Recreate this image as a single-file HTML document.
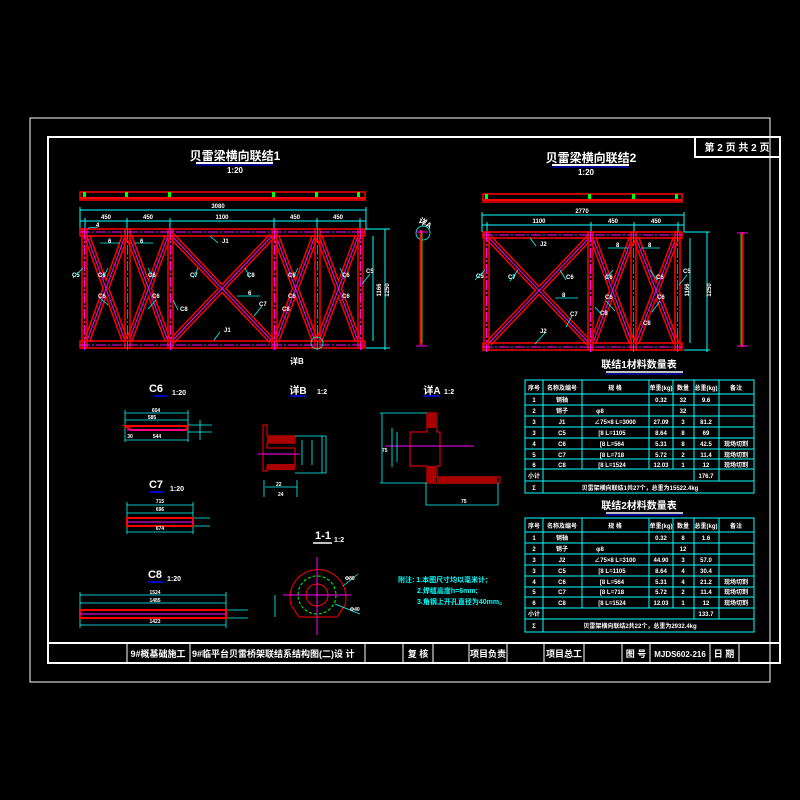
<!DOCTYPE html>
<html><head><meta charset="utf-8"><style>
html,body{margin:0;padding:0;background:#000;}
svg{display:block}
text{font-family:"Liberation Sans","Noto Sans CJK SC",sans-serif;font-weight:bold;fill:#fff}
</style></head><body>
<svg width="800" height="800" viewBox="0 0 800 800" xmlns="http://www.w3.org/2000/svg">
<rect width="800" height="800" fill="#000"/>
<!-- frames -->
<rect x="30" y="118" width="740" height="564" fill="none" stroke="#fff" stroke-width="1"/>
<rect x="48" y="137" width="732" height="526" fill="none" stroke="#fff" stroke-width="2"/>
<!-- page box -->
<rect x="695" y="137" width="85" height="20" fill="none" stroke="#fff" stroke-width="2"/>
<text x="737" y="151" font-size="10" text-anchor="middle">第 2 页  共 2 页</text>
<!-- title block -->
<line x1="48" y1="643" x2="780" y2="643" stroke="#fff" stroke-width="2"/>
<g stroke="#fff" stroke-width="1">
<line x1="127" y1="643" x2="127" y2="663"/><line x1="190" y1="643" x2="190" y2="663"/>
<line x1="365" y1="643" x2="365" y2="663"/><line x1="403" y1="643" x2="403" y2="663"/>
<line x1="433" y1="643" x2="433" y2="663"/><line x1="469" y1="643" x2="469" y2="663"/>
<line x1="507" y1="643" x2="507" y2="663"/><line x1="544" y1="643" x2="544" y2="663"/>
<line x1="584" y1="643" x2="584" y2="663"/><line x1="622" y1="643" x2="622" y2="663"/>
<line x1="650" y1="643" x2="650" y2="663"/><line x1="710" y1="643" x2="710" y2="663"/>
<line x1="739" y1="643" x2="739" y2="663"/>
</g>
<g font-size="9">
<text x="158" y="657" text-anchor="middle">9#概基础施工</text>
<text x="192" y="657">9#临平台贝雷桥架联结系结构图(二)设 计</text>
<text x="418" y="657" text-anchor="middle">复 核</text>
<text x="488" y="657" text-anchor="middle">项目负责</text>
<text x="564" y="657" text-anchor="middle">项目总工</text>
<text x="636" y="657" text-anchor="middle">图 号</text>
<text x="680" y="657" text-anchor="middle" font-size="8">MJDS602-216</text>
<text x="724" y="657" text-anchor="middle">日 期</text>
</g>

<!-- Titles -->
<text x="235" y="160" font-size="12" text-anchor="middle">贝雷梁横向联结1</text>
<line x1="196" y1="163" x2="273" y2="163" stroke="#fff" stroke-width="2"/><line x1="196" y1="165" x2="273" y2="165" stroke="#00f" stroke-width="1"/>
<text x="235" y="173" font-size="8" text-anchor="middle">1:20</text>
<text x="591" y="162" font-size="12" text-anchor="middle">贝雷梁横向联结2</text>
<line x1="552" y1="165" x2="629" y2="165" stroke="#fff" stroke-width="2"/><line x1="552" y1="167" x2="629" y2="167" stroke="#00f" stroke-width="1"/>
<text x="586" y="175" font-size="8" text-anchor="middle">1:20</text>

<!-- Truss 1 top strip -->
<rect x="80" y="192" width="285" height="8" fill="none" stroke="#f00" stroke-width="1.5"/>
<line x1="80" y1="198" x2="365" y2="198" stroke="#f00" stroke-width="2"/>
<g fill="#0f0"><rect x="83" y="192" width="3" height="5"/><rect x="125" y="192" width="3" height="5"/><rect x="168" y="192" width="3" height="5"/><rect x="272" y="192" width="3" height="5"/><rect x="315" y="192" width="3" height="5"/><rect x="357" y="192" width="3" height="5"/></g>
<!-- dims truss1 -->
<g stroke="#0ff" stroke-width="1" fill="none">
<line x1="80" y1="210" x2="366" y2="210"/><line x1="80" y1="221" x2="366" y2="221"/>
<line x1="80" y1="207" x2="80" y2="230"/><line x1="366" y1="207" x2="366" y2="230"/>
<line x1="85" y1="218" x2="85" y2="230"/><line x1="127" y1="218" x2="127" y2="230"/><line x1="170" y1="218" x2="170" y2="230"/><line x1="274" y1="218" x2="274" y2="230"/><line x1="317" y1="218" x2="317" y2="230"/><line x1="360" y1="218" x2="360" y2="230"/>
<line x1="366" y1="229" x2="390" y2="229"/><line x1="366" y1="348" x2="390" y2="348"/>
<line x1="385" y1="229" x2="385" y2="350"/><line x1="373" y1="236" x2="373" y2="341"/>
</g>
<g font-size="6" text-anchor="middle">
<text x="218" y="208">3080</text><text x="106" y="219">450</text><text x="148" y="219">450</text><text x="222" y="219">1100</text><text x="295" y="219">450</text><text x="338" y="219">450</text>
<text x="381" y="290" transform="rotate(-90 381 290)">1166</text><text x="389" y="290" transform="rotate(-90 389 290)">1250</text>
</g>
<!-- truss1 diagonals -->
<g stroke-linecap="butt">
<g stroke="#f00" stroke-width="7">
<path d="M87 236L125 341M125 236L87 341M129 236L168 341M168 236L129 341M172 236L272 341M272 236L172 341M276 236L315 341M315 236L276 341M319 236L358 341M358 236L319 341"/>
</g>
<g stroke="#000" stroke-width="4">
<path d="M87 236L125 341M125 236L87 341M129 236L168 341M168 236L129 341M172 236L272 341M272 236L172 341M276 236L315 341M315 236L276 341M319 236L358 341M358 236L319 341"/>
</g>
<g stroke="#f0f" stroke-width="1">
<path d="M87 236L125 341M125 236L87 341M129 236L168 341M168 236L129 341M172 236L272 341M272 236L172 341M276 236L315 341M315 236L276 341M319 236L358 341M358 236L319 341"/>
</g>
</g>
<!-- truss1 chords & verticals -->
<g fill="none" stroke="#f00" stroke-width="1.5">
<rect x="80" y="229" width="285" height="7"/><rect x="80" y="341" width="285" height="7"/>
<rect x="82" y="229" width="5" height="119"/><rect x="125" y="229" width="5" height="119"/><rect x="168" y="229" width="5" height="119"/><rect x="272" y="229" width="5" height="119"/><rect x="315" y="229" width="5" height="119"/><rect x="358" y="229" width="5" height="119"/>
</g>
<g stroke="#f0f" stroke-width="1" stroke-dasharray="10 2 2 2">
<line x1="80" y1="232" x2="365" y2="232"/><line x1="80" y1="345" x2="365" y2="345"/>
<line x1="84.5" y1="229" x2="84.5" y2="350"/><line x1="127.5" y1="229" x2="127.5" y2="350"/><line x1="170.5" y1="229" x2="170.5" y2="350"/><line x1="274.5" y1="229" x2="274.5" y2="350"/><line x1="317.5" y1="229" x2="317.5" y2="350"/><line x1="360.5" y1="229" x2="360.5" y2="350"/>
</g>
<!-- labels truss1 -->
<g font-size="6">
<text x="72" y="277">C5</text><text x="98" y="277">C6</text><text x="148" y="277">C6</text><text x="190" y="277">C7</text><text x="247" y="277">C8</text><text x="288" y="277">C6</text><text x="342" y="277">C6</text><text x="366" y="273">C5</text>
<text x="98" y="298">C6</text><text x="152" y="298">C6</text><text x="180" y="311">C8</text><text x="259" y="306">C7</text><text x="288" y="298">C6</text><text x="342" y="298">C6</text><text x="282" y="311">C8</text>
<text x="222" y="243">J1</text><text x="224" y="332">J1</text>
</g>
<g stroke="#0ff" stroke-width="0.8" fill="none">
<path d="M73 278L83 268M103 278L108 268M153 278L148 268M193 278L198 268M250 278L245 268M293 278L298 268M345 278L340 268M370 274L362 284M100 298L108 305M156 300L148 309M178 310L173 300M262 306L254 316M210 236L218 243M220 332L214 340"/>
<path d="M88 228L98 227M100 243L120 243M135 243L153 243M237 296L260 296"/>
</g>
<g font-size="6"><text x="96" y="227">4</text><text x="108" y="243">6</text><text x="140" y="243">6</text><text x="248" y="295">6</text></g>
<text x="290" y="364" font-size="8">详B</text>
<circle cx="317" cy="343" r="6" fill="none" stroke="#0ff" stroke-width="0.8"/>
<!-- side view left -->
<text x="418" y="222" font-size="8" transform="rotate(30 418 222)">详A</text>
<circle cx="423" cy="233" r="7" fill="none" stroke="#0ff" stroke-width="0.8"/>
<line x1="421" y1="230" x2="421" y2="345" stroke="#f00" stroke-width="3"/>
<line x1="422" y1="232" x2="422" y2="343" stroke="#0f0" stroke-width="0.8"/>
<line x1="416" y1="232" x2="427" y2="232" stroke="#f0f"/><line x1="416" y1="346" x2="427" y2="346" stroke="#f0f"/>

<!-- Truss 2 top strip -->
<rect x="483" y="194" width="199" height="8" fill="none" stroke="#f00" stroke-width="1.5"/>
<line x1="483" y1="200" x2="682" y2="200" stroke="#f00" stroke-width="2"/>
<g fill="#0f0"><rect x="485" y="194" width="3" height="5"/><rect x="588" y="194" width="3" height="5"/><rect x="632" y="194" width="3" height="5"/><rect x="675" y="194" width="3" height="5"/></g>
<g stroke="#0ff" stroke-width="1" fill="none">
<line x1="482" y1="215" x2="684" y2="215"/><line x1="482" y1="225" x2="684" y2="225"/>
<line x1="482" y1="212" x2="482" y2="232"/><line x1="684" y1="212" x2="684" y2="232"/>
<line x1="487" y1="222" x2="487" y2="232"/><line x1="591" y1="222" x2="591" y2="232"/><line x1="634" y1="222" x2="634" y2="232"/><line x1="678" y1="222" x2="678" y2="232"/>
<line x1="684" y1="232" x2="710" y2="232"/><line x1="684" y1="350" x2="710" y2="350"/>
<line x1="707" y1="232" x2="707" y2="352"/><line x1="690" y1="238" x2="690" y2="343"/>
</g>
<g font-size="6" text-anchor="middle">
<text x="582" y="213">2770</text><text x="539" y="223">1100</text><text x="613" y="223">450</text><text x="656" y="223">450</text>
<text x="689" y="290" transform="rotate(-90 689 290)">1166</text><text x="711" y="290" transform="rotate(-90 711 290)">1250</text>
</g>
<g>
<g stroke="#f00" stroke-width="7"><path d="M489 238L589 343M589 238L489 343M593 238L632 343M632 238L593 343M636 238L676 343M676 238L636 343"/></g>
<g stroke="#000" stroke-width="4"><path d="M489 238L589 343M589 238L489 343M593 238L632 343M632 238L593 343M636 238L676 343M676 238L636 343"/></g>
<g stroke="#f0f" stroke-width="1"><path d="M489 238L589 343M589 238L489 343M593 238L632 343M632 238L593 343M636 238L676 343M676 238L636 343"/></g>
</g>
<g fill="none" stroke="#f00" stroke-width="1.5">
<rect x="483" y="232" width="199" height="6"/><rect x="483" y="343" width="199" height="7"/>
<rect x="484" y="232" width="5" height="118"/><rect x="588" y="232" width="5" height="118"/><rect x="631" y="232" width="5" height="118"/><rect x="675" y="232" width="5" height="118"/>
</g>
<g stroke="#f0f" stroke-width="1" stroke-dasharray="10 2 2 2">
<line x1="483" y1="235" x2="682" y2="235"/><line x1="483" y1="347" x2="682" y2="347"/>
<line x1="486.5" y1="232" x2="486.5" y2="352"/><line x1="590.5" y1="232" x2="590.5" y2="352"/><line x1="633.5" y1="232" x2="633.5" y2="352"/><line x1="677.5" y1="232" x2="677.5" y2="352"/>
</g>
<g font-size="6">
<text x="476" y="278">C5</text><text x="508" y="279">C7</text><text x="566" y="279">C6</text><text x="605" y="279">C6</text><text x="656" y="279">C6</text><text x="683" y="273">C5</text>
<text x="605" y="299">C6</text><text x="657" y="299">C6</text><text x="570" y="316">C7</text><text x="600" y="315">C8</text><text x="643" y="325">C8</text>
<text x="540" y="246">J2</text><text x="540" y="333">J2</text>
</g>
<g stroke="#0ff" stroke-width="0.8" fill="none">
<path d="M475 280L485 270M510 281L518 270M566 280L560 270M605 280L613 270M657 280L650 270M687 275L679 285M606 301L615 311M660 301L652 312M572 316L566 327M602 315L595 307M545 333L535 344M536 246L530 238"/>
<path d="M608 248L628 248M641 248L660 248M555 298L578 298"/>
</g>
<g font-size="6"><text x="616" y="247">8</text><text x="648" y="247">8</text><text x="562" y="297">8</text></g>
<line x1="742" y1="232" x2="742" y2="347" stroke="#f00" stroke-width="3"/>
<line x1="741" y1="234" x2="741" y2="345" stroke="#0f0" stroke-width="0.8"/>
<line x1="737" y1="233" x2="748" y2="233" stroke="#f0f"/><line x1="737" y1="346" x2="748" y2="346" stroke="#f0f"/>

<!-- Tables -->
<text x="639" y="368" font-size="10" text-anchor="middle">联结1材料数量表</text>
<line x1="606" y1="372" x2="683" y2="372" stroke="#fff" stroke-width="1.5"/><line x1="606" y1="374" x2="683" y2="374" stroke="#00f"/>
<g stroke="#0ff" stroke-width="1" fill="none">
<rect x="525" y="380" width="229" height="113"/>
<path d="M525 394H754M525 405H754M525 416H754M525 427H754M525 438H754M525 449H754M525 459H754M525 469H754M525 481H754"/>
<path d="M543 380V493M582 380V469M649 380V469M673 380V469M694 380V481M719 380V481"/>
</g>
<g font-size="6" text-anchor="middle">
<text x="534" y="390">序号</text><text x="562" y="390">名称及编号</text><text x="615" y="390">规 格</text><text x="661" y="390">单重(kg)</text><text x="683" y="390">数量</text><text x="706" y="390">总重(kg)</text><text x="736" y="390">备注</text>
<text x="534" y="402">1</text><text x="562" y="402">销轴</text><text x="661" y="402">0.32</text><text x="683" y="402">32</text><text x="706" y="402">9.6</text>
<text x="534" y="413">2</text><text x="562" y="413">销子</text><text x="600" y="413">φ8</text><text x="683" y="413">32</text>
<text x="534" y="424">3</text><text x="562" y="424">J1</text><text x="615" y="424">∠75×8  L=3000</text><text x="661" y="424">27.09</text><text x="683" y="424">3</text><text x="706" y="424">81.2</text>
<text x="534" y="435">3</text><text x="562" y="435">C5</text><text x="612" y="435">[8  L=1105</text><text x="661" y="435">8.64</text><text x="683" y="435">8</text><text x="706" y="435">69</text>
<text x="534" y="446">4</text><text x="562" y="446">C6</text><text x="612" y="446">[8  L=564</text><text x="661" y="446">5.31</text><text x="683" y="446">8</text><text x="706" y="446">42.5</text><text x="736" y="446">现场切割</text>
<text x="534" y="457">5</text><text x="562" y="457">C7</text><text x="612" y="457">[8  L=718</text><text x="661" y="457">5.72</text><text x="683" y="457">2</text><text x="706" y="457">11.4</text><text x="736" y="457">现场切割</text>
<text x="534" y="467">6</text><text x="562" y="467">C8</text><text x="612" y="467">[8  L=1524</text><text x="661" y="467">12.03</text><text x="683" y="467">1</text><text x="706" y="467">12</text><text x="736" y="467">现场切割</text>
<text x="534" y="478">小计</text><text x="706" y="478">176.7</text>
<text x="534" y="490">Σ</text><text x="640" y="490">贝雷架横向联结1共27个，总重为15522.4kg</text>
</g>
<text x="639" y="509" font-size="10" text-anchor="middle">联结2材料数量表</text>
<line x1="606" y1="513" x2="683" y2="513" stroke="#fff" stroke-width="1.5"/><line x1="606" y1="515" x2="683" y2="515" stroke="#00f"/>
<g stroke="#0ff" stroke-width="1" fill="none">
<rect x="525" y="518" width="229" height="114"/>
<path d="M525 532H754M525 543H754M525 554H754M525 565H754M525 576H754M525 587H754M525 597H754M525 608H754M525 619H754"/>
<path d="M543 518V632M582 518V608M649 518V608M673 518V608M694 518V619M719 518V619"/>
</g>
<g font-size="6" text-anchor="middle">
<text x="534" y="528">序号</text><text x="562" y="528">名称及编号</text><text x="615" y="528">规 格</text><text x="661" y="528">单重(kg)</text><text x="683" y="528">数量</text><text x="706" y="528">总重(kg)</text><text x="736" y="528">备注</text>
<text x="534" y="540">1</text><text x="562" y="540">销轴</text><text x="661" y="540">0.32</text><text x="683" y="540">8</text><text x="706" y="540">1.6</text>
<text x="534" y="551">2</text><text x="562" y="551">销子</text><text x="600" y="551">φ8</text><text x="683" y="551">12</text>
<text x="534" y="562">3</text><text x="562" y="562">J2</text><text x="615" y="562">∠75×8  L=3100</text><text x="661" y="562">44.90</text><text x="683" y="562">3</text><text x="706" y="562">57.0</text>
<text x="534" y="573">3</text><text x="562" y="573">C5</text><text x="612" y="573">[8  L=1105</text><text x="661" y="573">8.64</text><text x="683" y="573">4</text><text x="706" y="573">30.4</text>
<text x="534" y="584">4</text><text x="562" y="584">C6</text><text x="612" y="584">[8  L=564</text><text x="661" y="584">5.31</text><text x="683" y="584">4</text><text x="706" y="584">21.2</text><text x="736" y="584">现场切割</text>
<text x="534" y="594">5</text><text x="562" y="594">C7</text><text x="612" y="594">[8  L=718</text><text x="661" y="594">5.72</text><text x="683" y="594">2</text><text x="706" y="594">11.4</text><text x="736" y="594">现场切割</text>
<text x="534" y="605">6</text><text x="562" y="605">C8</text><text x="612" y="605">[8  L=1524</text><text x="661" y="605">12.03</text><text x="683" y="605">1</text><text x="706" y="605">12</text><text x="736" y="605">现场切割</text>
<text x="534" y="616">小计</text><text x="706" y="616">133.7</text>
<text x="534" y="628">Σ</text><text x="640" y="628">贝雷架横向联结2共22个，总重为2932.4kg</text>
</g>

<!-- Details C6 -->
<text x="156" y="392" font-size="11" text-anchor="middle">C6</text><text x="172" y="395" font-size="7">1:20</text>
<line x1="154" y1="396" x2="168" y2="396" stroke="#00f" stroke-width="1.5"/>
<g stroke="#0ff" stroke-width="0.8" fill="none">
<path d="M125 413H188M125 420H188M125 440H188M125 410V442M188 410V442M188 425H212M188 432H212M200 420V440"/>
</g>
<path d="M125 426H188L186 430H131Z" fill="none" stroke="#f00" stroke-width="2"/>
<line x1="127" y1="430" x2="186" y2="430" stroke="#f0f"/>
<g font-size="5" text-anchor="middle"><text x="156" y="412">604</text><text x="152" y="419">585</text><text x="157" y="438">544</text><text x="130" y="438">30</text></g>
<!-- C7 -->
<text x="156" y="488" font-size="11" text-anchor="middle">C7</text><text x="170" y="491" font-size="7">1:20</text>
<line x1="150" y1="492" x2="164" y2="492" stroke="#00f" stroke-width="1.5"/>
<g stroke="#0ff" stroke-width="0.8" fill="none">
<path d="M127 505H193M127 513H193M127 532H193M127 502V534M193 502V534M193 518H210M193 526H210"/>
</g>
<rect x="127" y="518" width="66" height="8" fill="none" stroke="#f00" stroke-width="2"/>
<line x1="127" y1="522" x2="193" y2="522" stroke="#f0f"/>
<g font-size="5" text-anchor="middle"><text x="160" y="503">715</text><text x="160" y="511">696</text><text x="160" y="530">674</text></g>
<!-- C8 -->
<text x="155" y="578" font-size="11" text-anchor="middle">C8</text><text x="167" y="581" font-size="7">1:20</text>
<line x1="148" y1="582" x2="163" y2="582" stroke="#00f" stroke-width="1.5"/>
<g stroke="#0ff" stroke-width="0.8" fill="none">
<path d="M80 595H226M80 603H226M80 625H226M80 592V628M226 592V628M226 610H248M226 618H248"/>
</g>
<rect x="80" y="610" width="146" height="8" fill="none" stroke="#f00" stroke-width="2"/>
<line x1="80" y1="614" x2="226" y2="614" stroke="#f0f"/>
<g font-size="5" text-anchor="middle"><text x="155" y="594">1524</text><text x="155" y="602">1485</text><text x="155" y="623">1423</text></g>
<!-- 详B -->
<text x="298" y="394" font-size="10" text-anchor="middle">详B</text><text x="317" y="394" font-size="7">1:2</text>
<line x1="290" y1="396" x2="306" y2="396" stroke="#00f" stroke-width="1.5"/>
<path d="M263 425V471H267V466H295V448H267V443H295V436H267V425Z" fill="none" stroke="#f00" stroke-width="1"/>
<rect x="267" y="436" width="28" height="7" fill="#a00"/><rect x="267" y="464" width="28" height="6" fill="#a00"/>
<line x1="258" y1="454" x2="300" y2="454" stroke="#f0f"/>
<g stroke="#0ff" stroke-width="0.8" fill="none"><path d="M295 436H326V473H295M302 440V465M312 440V465M322 436V473M265 487H297M264 480V497M297 480V497"/></g>
<g font-size="5"><text x="276" y="486">22</text><text x="278" y="496">24</text></g>
<!-- 详A -->
<text x="432" y="394" font-size="10" text-anchor="middle">详A</text><text x="444" y="394" font-size="7">1:2</text>
<line x1="423" y1="396" x2="440" y2="396" stroke="#00f" stroke-width="1.5"/>
<path d="M427 413V432H410V466H427V483H500V477H437V466H440V432H437V413Z" fill="none" stroke="#f00" stroke-width="1"/>
<rect x="427" y="413" width="9" height="15" fill="#a00"/><rect x="427" y="466" width="9" height="17" fill="#a00"/><rect x="437" y="477" width="60" height="6" fill="#a00"/>
<line x1="385" y1="446" x2="474" y2="446" stroke="#f0f"/>
<g stroke="#0ff" stroke-width="0.8" fill="none"><path d="M380 413H427M380 483H427M382 413V483M392 428V467M397 432V462M426 483V505H498V483"/></g>
<text x="461" y="503" font-size="5">75</text><text x="382" y="452" font-size="5">75</text>
<!-- 1-1 -->
<text x="323" y="539" font-size="11" text-anchor="middle">1-1</text><text x="334" y="542" font-size="7">1:2</text>
<line x1="313" y1="543" x2="332" y2="543" stroke="#fff" stroke-width="1.5"/>
<path d="M299 617L291 605A28 28 0 1 1 345 605L337 617Z" fill="none" stroke="#f00" stroke-width="1"/>
<circle cx="317" cy="595" r="19" fill="none" stroke="#0f0" stroke-width="1" stroke-dasharray="3 2"/>
<circle cx="317" cy="595" r="11" fill="none" stroke="#f00" stroke-width="1"/>
<line x1="317" y1="557" x2="317" y2="635" stroke="#f0f"/><line x1="283" y1="595" x2="351" y2="595" stroke="#f0f"/>
<g stroke="#0ff" stroke-width="0.8"><line x1="343" y1="586" x2="358" y2="574"/><line x1="335" y1="604" x2="360" y2="614"/><line x1="275" y1="595" x2="275" y2="617"/></g>
<text x="345" y="580" font-size="5" fill="#fff">Φ80</text><text x="350" y="611" font-size="5">Φ40</text>
<!-- notes -->
<g font-size="7" style="fill:#0ff"><text x="398" y="582" style="fill:#0ff">附注: 1.本图尺寸均以毫米计;</text><text x="417" y="593" style="fill:#0ff">2.焊缝高度h=6mm;</text><text x="417" y="604" style="fill:#0ff">3.角钢上开孔直径为40mm。</text></g>
</svg>
</body></html>
